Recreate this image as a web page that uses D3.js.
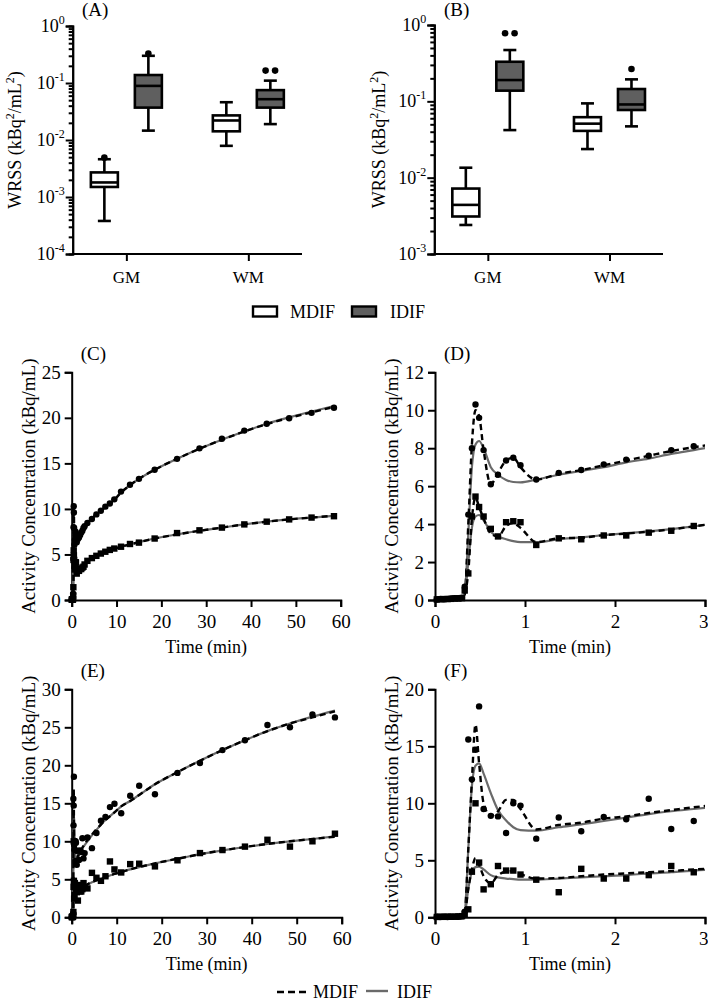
<!DOCTYPE html>
<html><head><meta charset="utf-8">
<script src="https://cdn.jsdelivr.net/npm/d3@7"></script>
<style>body{margin:0;background:#fff}</style>
</head><body>
<svg id="chart" width="708" height="1004"></svg>
<script>
// ---------------- DATA ----------------
const boxCategories = ["GM", "WM"];
const boxGroups = ["MDIF", "IDIF"];
// each row: [min, q1, median, q3, max] for GM, WM
const wrssA_MDIF = [[0.00038, 0.0015, 0.0018, 0.0027, 0.0046], [0.0079, 0.0142, 0.022, 0.027, 0.046]];
const wrssA_IDIF = [[0.0146, 0.037, 0.089, 0.138, 0.30], [0.019, 0.037, 0.052, 0.075, 0.11]];
const outliersA_MDIF = [[0.0049], []];
const outliersA_IDIF = [[0.33], [0.165, 0.165]];
const wrssB_MDIF = [[0.0024, 0.0031, 0.0044, 0.0072, 0.0135], [0.0237, 0.041, 0.051, 0.062, 0.094]];
const wrssB_IDIF = [[0.042, 0.138, 0.19, 0.33, 0.47], [0.047, 0.077, 0.091, 0.145, 0.194]];
const outliersB_MDIF = [[], []];
const outliersB_IDIF = [[0.78, 0.78], [0.265]];
const logTicksA = [1e-4, 1e-3, 1e-2, 1e-1, 1];
const logTicksB = [1e-3, 1e-2, 1e-1, 1];

const frameTimes = [0.02,0.06,0.10,0.14,0.18,0.22,0.26,0.30,0.33,0.37,0.41,0.45,0.49,0.54,0.62,0.70,0.79,0.87,0.95,
  1.125,1.375,1.625,1.875,2.125,2.375,2.625,2.875,3.5,4.5,5.5,6.5,7.5,8.5,9.5,11,13,15,18.5,23.5,28.5,33.5,38.5,43.5,48.5,53.5,58.5];

// Subject 1 (panels C, D)
const s1_gmObs = [0.03,0.05,0.04,0.06,0.08,0.1,0.1,0.12,0.7, 4.5,8.0,10.3,9.6,7.9,6.1,6.6,7.35,7.5,7.1,
  6.35,6.7,6.85,7.15,7.4,7.6,7.9,8.1, 8.45,8.9,9.4,9.8,10.25,10.6,11.05,11.9,12.65,13.3,14.3,15.5,16.65,17.7,18.6,19.35,19.95,20.55,21.1];
const s1_gmMDIF = [0,0,0,0,0.02,0.05,0.08,0.1,0.3, 4.0,8.2,10.0,9.7,7.9,6.1,6.7,7.35,7.5,7.0,
  6.35,6.65,6.85,7.1,7.35,7.6,7.85,8.05, 8.45,8.95,9.4,9.8,10.2,10.6,11.0,11.8,12.6,13.3,14.3,15.5,16.6,17.6,18.5,19.3,20.0,20.6,21.2];
const s1_gmIDIF = [0,0,0,0,0.02,0.05,0.08,0.1,0.3, 3.5,7.0,8.2,8.38,8.0,7.0,6.6,6.33,6.22,6.2,
  6.35,6.6,6.8,7.0,7.25,7.45,7.7,7.9, 8.4,8.95,9.4,9.8,10.2,10.6,11.0,11.8,12.6,13.3,14.3,15.5,16.6,17.6,18.5,19.35,20.05,20.7,21.3];
const s1_wmObs = [0.03,0.04,0.05,0.05,0.06,0.08,0.08,0.1,0.5, 1.4,4.4,5.45,4.9,4.4,3.75,3.35,4.1,4.15,4.1,
  2.9,3.25,3.2,3.4,3.4,3.55,3.65,3.9, 4.3,4.6,4.85,5.1,5.3,5.5,5.65,5.85,6.15,6.3,6.75,7.35,7.65,7.95,8.3,8.6,8.85,9.05,9.2];
const s1_wmMDIF = [0,0,0,0,0.02,0.04,0.06,0.08,0.3, 1.5,4.3,5.4,4.9,4.3,3.5,3.35,3.9,4.05,3.8,
  3.05,3.25,3.28,3.42,3.5,3.6,3.72,3.88, 4.3,4.6,4.85,5.05,5.25,5.45,5.6,5.85,6.1,6.35,6.75,7.2,7.6,7.95,8.3,8.6,8.85,9.05,9.25];
const s1_wmIDIF = [0,0,0,0,0.02,0.04,0.06,0.08,0.3, 2.0,3.8,4.4,4.48,4.2,3.6,3.35,3.2,3.1,3.05,
  3.05,3.2,3.3,3.42,3.52,3.62,3.74,3.88, 4.3,4.6,4.85,5.05,5.25,5.45,5.6,5.85,6.1,6.35,6.75,7.2,7.6,7.95,8.3,8.6,8.85,9.05,9.25];

// Subject 2 (panels E, F)
const s2_gmObs = [0.05,0.02,0.05,0.03,0.05,0.06,0.05,0.08,0.5, 15.6,12.1,14.7,18.5,9.5,8.9,8.85,7.4,10.0,9.8,
  6.9,8.75,7.55,8.8,8.6,10.4,7.75,8.45, 10.5,9.1,11.1,12.7,13.2,14.5,14.95,13.7,16.0,17.3,16.2,19.0,20.3,22.0,23.3,25.3,25.0,26.7,26.3];
const s2_gmMDIF = [0,0,0,0,0.02,0.04,0.06,0.08,0.4, 6.0,12.0,16.9,13.5,10.0,8.9,9.3,10.3,10.3,9.5,
  7.7,8.1,8.3,8.65,8.85,9.15,9.4,9.65, 10.2,10.9,11.6,12.2,12.8,13.3,13.8,14.6,15.3,16.1,17.5,19.1,20.6,22.0,23.3,24.5,25.5,26.3,27.1];
const s2_gmIDIF = [0,0,0,0,0.02,0.04,0.06,0.08,0.4, 6.0,11.5,13.3,13.5,12.6,10.9,9.4,8.5,7.9,7.65,
  7.6,7.9,8.15,8.45,8.75,9.05,9.3,9.5, 10.0,10.8,11.5,12.2,12.8,13.3,13.8,14.6,15.3,16.1,17.5,19.1,20.6,22.0,23.3,24.5,25.5,26.4,27.2];
const s2_wmObs = [0.03,0.05,0.04,0.06,0.05,0.05,0.08,0.1,0.3, 0.7,4.0,10.0,4.8,2.45,2.9,4.5,4.1,4.1,3.75,
  3.3,2.2,4.25,3.4,3.4,3.7,4.5,3.95, 3.8,5.85,5.2,4.8,5.4,7.35,6.3,5.9,7.0,7.05,6.7,7.5,8.45,8.85,9.3,10.2,9.3,10.0,11.0];
const s2_wmMDIF = [0,0,0,0,0.02,0.04,0.06,0.08,0.3, 2.5,4.2,5.2,4.6,3.6,3.0,3.7,4.0,4.05,3.8,
  3.4,3.45,3.6,3.75,3.85,3.95,4.05,4.2, 4.35,4.65,4.85,5.05,5.3,5.5,5.7,5.95,6.3,6.6,7.1,7.7,8.3,8.8,9.25,9.65,10.0,10.3,10.6];
const s2_wmIDIF = [0,0,0,0,0.02,0.04,0.06,0.08,0.3, 2.5,4.0,4.4,4.45,4.2,3.7,3.5,3.4,3.35,3.3,
  3.3,3.4,3.5,3.6,3.7,3.85,3.95,4.1, 4.3,4.6,4.85,5.05,5.3,5.5,5.7,5.95,6.3,6.6,7.1,7.7,8.3,8.8,9.25,9.65,10.0,10.3,10.65];

const ticksLong = [0, 10, 20, 30, 40, 50, 60];
const ticksShort = [0, 1, 2, 3];
const yTicksC = [0, 5, 10, 15, 20, 25];
const yTicksD = [0, 2, 4, 6, 8, 10, 12];
const yTicksE = [0, 5, 10, 15, 20, 25, 30];
const yTicksF = [0, 5, 10, 15, 20];

// ---------------- DRAWING ----------------
const svg = d3.select("#chart");
const IDIF_FILL = "#5f5f5f";
const LINE_GRAY = "#6a6a6a";

function styleAxis(g) {
  g.select(".domain").attr("stroke", "#000").attr("stroke-width", 2);
  g.selectAll(".tick line").attr("stroke", "#000").attr("stroke-width", 2);
  g.selectAll(".tick text").attr("fill", "#000");
}

function drawBoxPanel(o) {
  const g = svg.append("g");
  const y = d3.scaleLog().domain(o.domain).range([o.y1, o.y0]);
  const x = d3.scalePoint().domain(boxCategories).range([o.x0, o.x1]).padding(0.44);
  const off = d3.scalePoint().domain(boxGroups).range([-22, 22]);
  const bw = 27;

  const minor = [];
  const dec = Math.round(Math.log10(o.domain[1] / o.domain[0]));
  for (let k = 0; k < dec; k++) {
    const b = o.domain[0] * Math.pow(10, k);
    for (let m = 2; m <= 9; m++) minor.push(b * m);
  }
  const ya = g.append("g").attr("transform", `translate(${o.x0},0)`)
    .call(d3.axisLeft(y).tickValues(minor).tickSize(4).tickFormat(""));
  styleAxis(ya);
  const yb = g.append("g").attr("transform", `translate(${o.x0},0)`)
    .call(d3.axisLeft(y).tickValues(o.ticks).tickSize(7).tickFormat(""));
  styleAxis(yb);
  o.ticks.forEach(v => {
    const e = Math.round(Math.log10(v));
    const t = g.append("text").attr("x", o.x0 - 8).attr("y", y(v) + 6).attr("text-anchor", "end");
    t.append("tspan").text("10").attr("font-size", 18);
    t.append("tspan").text(String(e)).attr("font-size", 12).attr("dy", -8);
  });
  const xa = g.append("g").attr("transform", `translate(0,${o.y1})`)
    .call(d3.axisBottom(x).tickSize(7).tickFormat(""));
  xa.select(".domain").attr("d", `M${o.x0},0H${o.x1}`);
  styleAxis(xa);
  boxCategories.forEach(c => {
    g.append("text").attr("x", x(c)).attr("y", o.y1 + 29).attr("text-anchor", "middle")
      .attr("font-size", 17).text(c);
  });

  const sets = {MDIF: [o.mdif, o.outMdif, "#fff"], IDIF: [o.idif, o.outIdif, IDIF_FILL]};
  boxGroups.forEach(gr => {
    const [stats, outs, fill] = sets[gr];
    boxCategories.forEach((c, i) => {
      const cx = x(c) + off(gr);
      const [mn, q1, md, q3, mx] = stats[i];
      const bg = g.append("g").attr("stroke", "#000").attr("stroke-width", 2.6);
      bg.append("line").attr("x1", cx).attr("x2", cx).attr("y1", y(mx)).attr("y2", y(q3));
      bg.append("line").attr("x1", cx).attr("x2", cx).attr("y1", y(q1)).attr("y2", y(mn));
      bg.append("line").attr("x1", cx - 6.5).attr("x2", cx + 6.5).attr("y1", y(mx)).attr("y2", y(mx));
      bg.append("line").attr("x1", cx - 6.5).attr("x2", cx + 6.5).attr("y1", y(mn)).attr("y2", y(mn));
      bg.append("rect").attr("x", cx - bw / 2).attr("width", bw).attr("y", y(q3))
        .attr("height", y(q1) - y(q3)).attr("fill", fill);
      bg.append("line").attr("x1", cx - bw / 2).attr("x2", cx + bw / 2).attr("y1", y(md)).attr("y2", y(md));
      const n = outs[i].length;
      outs[i].forEach((v, j) => {
        g.append("circle").attr("cx", cx + (j - (n - 1) / 2) * 9.5).attr("cy", y(v)).attr("r", 3.3).attr("fill", "#000");
      });
    });
  });

  const yt = g.append("text").attr("transform", `translate(${o.titleX},${(o.y0 + o.y1) / 2}) rotate(-90)`)
    .attr("text-anchor", "middle").attr("font-size", 18);
  yt.append("tspan").text("WRSS (kBq");
  yt.append("tspan").text("2").attr("font-size", 12).attr("dy", -7);
  yt.append("tspan").text("/mL").attr("dy", 7);
  yt.append("tspan").text("2").attr("font-size", 12).attr("dy", -7);
  yt.append("tspan").text(")").attr("dy", 7);
  g.append("text").attr("x", o.labelX).attr("y", o.labelY).attr("font-size", 19).text(o.label);
}

drawBoxPanel({x0: 72.7, x1: 302, y0: 26, y1: 254, domain: [1e-4, 1], ticks: logTicksA,
  mdif: wrssA_MDIF, idif: wrssA_IDIF, outMdif: outliersA_MDIF, outIdif: outliersA_IDIF,
  titleX: 21, label: "(A)", labelX: 82, labelY: 16});
drawBoxPanel({x0: 434.3, x1: 663, y0: 25, y1: 254, domain: [1e-3, 1], ticks: logTicksB,
  mdif: wrssB_MDIF, idif: wrssB_IDIF, outMdif: outliersB_MDIF, outIdif: outliersB_IDIF,
  titleX: 385, label: "(B)", labelX: 444, labelY: 16});

const lg = svg.append("g");
[["MDIF", "#fff", 253, 290], ["IDIF", IDIF_FILL, 352, 390]].forEach(([t, f, bx, tx]) => {
  lg.append("rect").attr("x", bx).attr("y", 306.5).attr("width", 24).attr("height", 10)
    .attr("fill", f).attr("stroke", "#000").attr("stroke-width", 2.4);
  lg.append("text").attr("x", tx).attr("y", 318).attr("font-size", 18).text(t);
});

let clipId = 0;
function drawTAC(o) {
  const g = svg.append("g");
  const x = d3.scaleLinear().domain([o.xt[0], o.xt[o.xt.length - 1]]).range([o.x0, o.x1]);
  const y = d3.scaleLinear().domain([o.yt[0], o.yt[o.yt.length - 1]]).range([o.y1, o.y0]);
  const id = "clip" + (clipId++);
  svg.append("clipPath").attr("id", id).append("rect")
    .attr("x", o.x0 - 6).attr("y", o.y0 - 12).attr("width", o.x1 - o.x0 + 6).attr("height", o.y1 - o.y0 + 18);

  const xa = g.append("g").attr("transform", `translate(0,${o.y1})`)
    .call(d3.axisBottom(x).tickValues(o.xt).tickSize(7).tickFormat(d3.format("d")));
  styleAxis(xa);
  xa.selectAll(".tick text").attr("font-size", 19).attr("dy", "0.95em");
  if (o.x1 > 700) xa.selectAll(".tick text").filter(d => d === o.xt[o.xt.length - 1]).attr("text-anchor", "end").attr("dx", 3);
  const ya = g.append("g").attr("transform", `translate(${o.x0},0)`)
    .call(d3.axisLeft(y).tickValues(o.yt).tickSize(7).tickFormat(d3.format("d")));
  styleAxis(ya);
  ya.selectAll(".tick text").attr("font-size", 19).attr("dx", "-0.05em");

  const plot = g.append("g").attr("clip-path", `url(#${id})`);
  const pts = (arr) => frameTimes.map((t, i) => [t, arr[i]]);
  const line = d3.line().x(d => x(d[0])).y(d => y(d[1])).curve(d3.curveMonotoneX);
  [o.gm, o.wm].forEach(s => {
    plot.append("path").datum(pts(s.idif)).attr("d", line).attr("fill", "none")
      .attr("stroke", LINE_GRAY).attr("stroke-width", 2.2);
    plot.append("path").datum(pts(s.mdif)).attr("d", line).attr("fill", "none")
      .attr("stroke", "#000").attr("stroke-width", 2.4).attr("stroke-dasharray", "6,4");
  });
  const inDom = d => d[0] <= x.domain()[1];
  plot.selectAll(".gmpt").data(pts(o.gm.obs).filter(inDom)).enter().append("circle")
    .attr("cx", d => x(d[0])).attr("cy", d => y(d[1])).attr("r", 3.2).attr("fill", "#000");
  plot.selectAll(".wmpt").data(pts(o.wm.obs).filter(inDom)).enter().append("rect")
    .attr("x", d => x(d[0]) - 3.2).attr("y", d => y(d[1]) - 3.2).attr("width", 6.4).attr("height", 6.4).attr("fill", "#000");

  g.append("text").attr("x", (o.x0 + o.x1) / 2).attr("y", o.y1 + 53).attr("text-anchor", "middle")
    .attr("font-size", 18).text("Time (min)");
  g.append("text").attr("transform", `translate(${o.x0 - 37},${(o.y0 + o.y1) / 2}) rotate(-90)`)
    .attr("text-anchor", "middle").attr("font-size", 19).text("Activity Concentration (kBq/mL)");
  g.append("text").attr("x", o.x0 + 9).attr("y", o.y0 - 12).attr("font-size", 19).text(o.label);
}

const s1 = {gm: {obs: s1_gmObs, mdif: s1_gmMDIF, idif: s1_gmIDIF}, wm: {obs: s1_wmObs, mdif: s1_wmMDIF, idif: s1_wmIDIF}};
const s2 = {gm: {obs: s2_gmObs, mdif: s2_gmMDIF, idif: s2_gmIDIF}, wm: {obs: s2_wmObs, mdif: s2_wmMDIF, idif: s2_wmIDIF}};

drawTAC({x0: 71.7, x1: 340.7, y0: 372.3, y1: 600, xt: ticksLong, yt: yTicksC, label: "(C)", ...s1});
drawTAC({x0: 435, x1: 705, y0: 372.3, y1: 600, xt: ticksShort, yt: yTicksD, label: "(D)", ...s1});
drawTAC({x0: 71.7, x1: 341.7, y0: 689.3, y1: 917.3, xt: ticksLong, yt: yTicksE, label: "(E)", ...s2});
drawTAC({x0: 435, x1: 705, y0: 689.3, y1: 917.3, xt: ticksShort, yt: yTicksF, label: "(F)", ...s2});

const bl = svg.append("g");
bl.append("line").attr("x1", 277).attr("x2", 306).attr("y1", 992).attr("y2", 992)
  .attr("stroke", "#000").attr("stroke-width", 2.4).attr("stroke-dasharray", "7,4");
bl.append("text").attr("x", 313).attr("y", 998).attr("font-size", 18).text("MDIF");
bl.append("line").attr("x1", 366).attr("x2", 388).attr("y1", 991).attr("y2", 991)
  .attr("stroke", LINE_GRAY).attr("stroke-width", 2.4);
bl.append("text").attr("x", 397).attr("y", 998).attr("font-size", 18).text("IDIF");

// serif font on every text (set directly on each element)
svg.selectAll("text").style("font-family", "'Liberation Serif', serif").style("fill", "#000");
svg.selectAll("g").attr("font-family", null);
</script>
</body></html>
